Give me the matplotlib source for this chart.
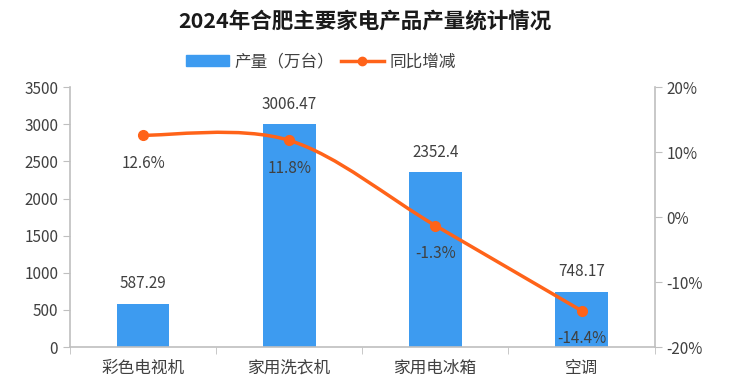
import matplotlib.pyplot as plt
import numpy as np
from matplotlib.path import Path
from matplotlib.patches import PathPatch
from matplotlib.lines import Line2D
from matplotlib.patches import Patch

plt.rcParams['font.family'] = ['Noto Sans CJK SC', 'DejaVu Sans']

categories = ['彩色电视机', '家用洗衣机', '家用电冰箱', '空调']
output = [587.29, 3006.47, 2352.4, 748.17]
output_labels = ['587.29', '3006.47', '2352.4', '748.17']
growth = [12.6, 11.8, -1.3, -14.4]
growth_labels = ['12.6%', '11.8%', '-1.3%', '-14.4%']

bar_color = '#3d9bf0'
line_color = '#ff6319'
axis_color = '#bfbfbf'
text_color = '#404040'

fig = plt.figure(figsize=(7.29, 3.87), dpi=100)
ax = fig.add_axes([0.096, 0.103, 0.802, 0.672])
x = np.arange(len(categories))

ax.bar(x, output, width=0.36, color=bar_color, zorder=2)
ax.set_xlim(-0.5, len(categories) - 0.5)
ax.set_ylim(0, 3500)
ax.set_yticks(range(0, 3501, 500))
for xi, v, s in zip(x, output, output_labels):
    ax.annotate(s, (xi, v), xytext=(0, 8), textcoords='offset points',
                ha='center', va='bottom', fontsize=11, color=text_color)

ax.set_xticks(x)
ax.set_xticklabels(categories, fontsize=12, color=text_color)
ax.set_xticks(np.arange(-0.5, len(categories)), minor=True)
ax.tick_params(axis='x', which='major', length=0, pad=9)
ax.tick_params(axis='x', which='minor', length=5, color=axis_color)
ax.tick_params(axis='y', labelsize=11, labelcolor=text_color, length=5, color=axis_color)

for side in ['top', 'right']:
    ax.spines[side].set_visible(False)
for side in ['left', 'bottom']:
    ax.spines[side].set_color(axis_color)
    ax.spines[side].set_linewidth(1.2)

ax2 = ax.twinx()
ax2.set_ylim(-20, 20)
ax2.set_yticks(range(-20, 21, 10))
ax2.set_yticklabels(['%d%%' % t for t in range(-20, 21, 10)])
ax2.tick_params(axis='y', labelsize=11, labelcolor=text_color, length=5, color=axis_color)
for side in ['top', 'left', 'bottom']:
    ax2.spines[side].set_visible(False)
ax2.spines['right'].set_color(axis_color)
ax2.spines['right'].set_linewidth(1.2)

# smoothed line drawn as bezier segments through the data points
pts = np.column_stack([x, growth]).astype(float)
verts = [tuple(pts[0])]
codes = [Path.MOVETO]
t = 1 / 6
for i in range(len(pts) - 1):
    p0 = pts[i - 1] if i > 0 else pts[i]
    p1, p2 = pts[i], pts[i + 1]
    p3 = pts[i + 2] if i + 2 < len(pts) else pts[i + 1]
    c1 = p1 + (p2 - p0) * t
    c2 = p2 - (p3 - p1) * t
    verts += [tuple(c1), tuple(c2), tuple(p2)]
    codes += [Path.CURVE4] * 3
ax2.add_patch(PathPatch(Path(verts, codes), fill=False, edgecolor=line_color, lw=2.5, zorder=3))
ax2.plot(x, growth, 'o', color=line_color, ms=7, zorder=4)
for xi, v, s in zip(x, growth, growth_labels):
    ax2.annotate(s, (xi, v), xytext=(0, -14), textcoords='offset points',
                 ha='center', va='top', fontsize=11, color=text_color, zorder=5)

fig.text(0.5, 0.945, '2024年合肥主要家电产品产量统计情况', ha='center', va='center',
         fontsize=15.5, fontweight='bold', color='#1a1a1a')

handles = [Patch(color=bar_color, label='产量（万台）'),
           Line2D([0], [0], color=line_color, lw=2.5, marker='o', ms=6, label='同比增减')]
fig.legend(handles=handles, loc='center', bbox_to_anchor=(0.44, 0.84), ncol=2, frameon=False,
           fontsize=12, handlelength=2.6, columnspacing=0.4, handletextpad=0.3,
           labelcolor=text_color)

fig.savefig('out.png', dpi=100)
